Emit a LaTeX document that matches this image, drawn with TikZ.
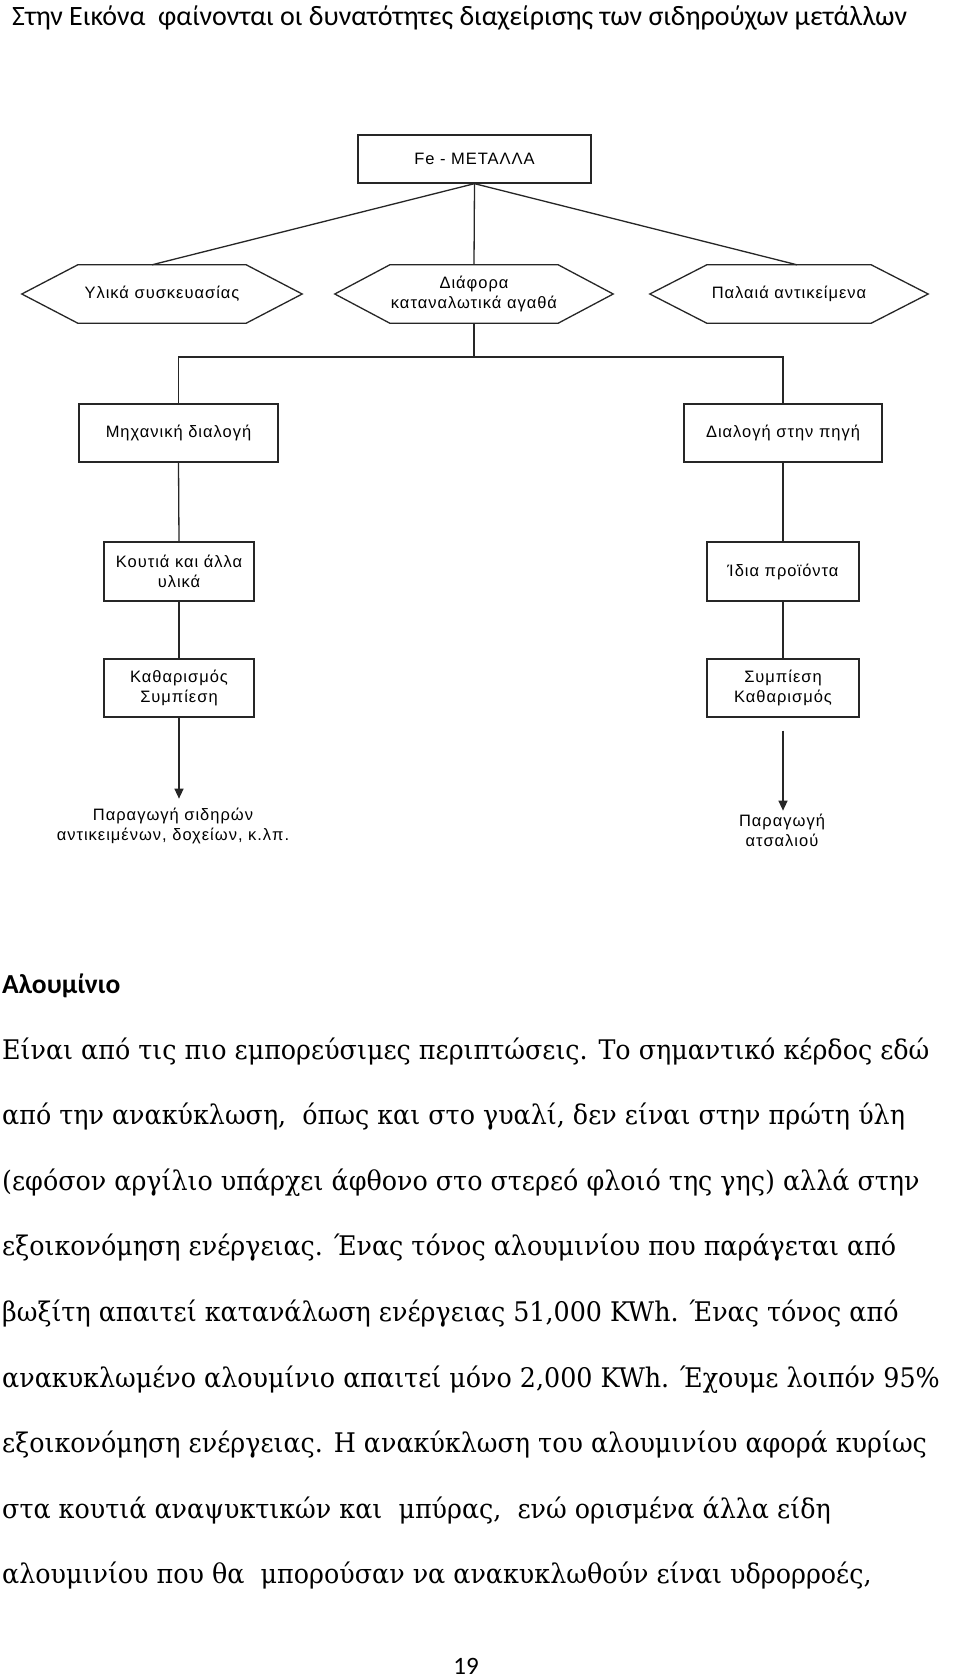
\documentclass[tikz,border=0pt]{standalone}
\usepackage{fontspec}
\setmainfont{DejaVu Serif}
\newfontfamily\titlefont{Carlito}
\newfontfamily\diagfont[LetterSpace=6]{Liberation Sans}
\newfontfamily\bodyfont[FakeStretch=0.94]{DejaVu Serif}
\usetikzlibrary{arrows.meta}
\tikzset{
  conn/.style={line width=1.3pt, draw=black!85},
  boxnode/.style={draw=black!85, line width=1.3pt, rectangle, inner sep=0pt, align=center,
    font=\diagfont\fontsize{16.5}{20}\selectfont},
  hexnode/.style={rectangle, inner sep=0pt, align=center, minimum height=58pt,
    font=\diagfont\fontsize{16.5}{20.5}\selectfont},
  outtext/.style={inner sep=0pt, align=center, font=\diagfont\fontsize{16.5}{20}\selectfont},
  bodyline/.style={anchor=base west, inner sep=0pt, font=\bodyfont\fontsize{27}{30}\selectfont},
  tip/.style={-{Triangle[width=9pt,length=10pt]}}
}
\newcommand\hexpath[2]{\draw[conn] (#1.west) -- ([xshift=#2]#1.north west) -- ([xshift=-#2]#1.north east) -- (#1.east) -- ([xshift=-#2]#1.south east) -- ([xshift=#2]#1.south west) -- cycle;}
\begin{document}
\begin{tikzpicture}[x=1pt,y=-1pt]
\fill[white] (0,0) rectangle (960,1678);
\useasboundingbox (0,0) rectangle (960,1678);

% title
\node[anchor=base west, inner sep=0pt, font=\titlefont\fontsize{28}{32}\selectfont] (title) at (12,26)
  {Στην Εικόνα~ φαίνονται οι δυνατότητες διαχείρισης των σιδηρούχων μετάλλων};

% diagram
\node[boxnode, minimum width=233pt, minimum height=48pt] (fe) at (474.5,159) {Fe - ΜΕΤΑΛΛΑ};

\node[hexnode, minimum width=280pt] (hl) at (162,294) {Υλικά συσκευασίας};
\node[hexnode, minimum width=278pt] (hm) at (474,294) {Διάφορα\\καταναλωτικά αγαθά};
\node[hexnode, minimum width=278pt] (hr) at (789,294) {Παλαιά αντικείμενα};
\hexpath{hl}{56}
\hexpath{hm}{55}
\hexpath{hr}{57}

\node[boxnode, minimum width=199pt, minimum height=58pt] (m1) at (178.5,433) {Μηχανική διαλογή};
\node[boxnode, minimum width=198pt, minimum height=58pt] (r1) at (783,433) {Διαλογή στην πηγή};
\node[boxnode, minimum width=150pt, minimum height=59pt] (m2) at (179,571.5) {Κουτιά και άλλα\\υλικά};
\node[boxnode, minimum width=152pt, minimum height=59pt] (r2) at (783,571.5) {Ίδια προϊόντα};
\node[boxnode, minimum width=150pt, minimum height=58pt] (m3) at (179,688) {Καθαρισμός\\Συμπίεση};
\node[boxnode, minimum width=152pt, minimum height=58pt] (r3) at (783,688) {Συμπίεση\\Καθαρισμός};

\node[outtext] (o1) at (173,826) {Παραγωγή σιδηρών\\αντικειμένων, δοχείων, κ.λπ.};
\node[outtext] (o2) at (782,830) {Παραγωγή\\ατσαλιού};

\coordinate (j) at (474,357);

\draw[conn] (fe.south) -- ([xshift=-10pt]hl.north);
\draw[conn] (fe.south) -- ([xshift=8pt]hr.north);
\draw[conn] (fe.south) -- (hm.north);
\draw[conn] (hm.south) -- (j);
\draw[conn] (m1.north) -- (m1.north |- j) -- (r1.north |- j) -- (r1.north);
\draw[conn] (m1.south) -- (m2.north);
\draw[conn] (r1.south) -- (r2.north);
\draw[conn] (m2.south) -- (m3.north);
\draw[conn] (r2.south) -- (r3.north);
\draw[conn, tip] (m3.south) -- ([yshift=-81pt]m3.south);
\draw[conn, tip] ([yshift=-13pt]r3.south) -- ([yshift=-93pt]r3.south);

% text
\node[anchor=base west, inner sep=0pt, font=\titlefont\bfseries\fontsize{27.5}{30}\selectfont] (heading) at (2,993) {Αλουμίνιο};

\node[bodyline] (l1) at (2,1059) {Είναι από τις πιο εμπορεύσιμες περιπτώσεις. Το σημαντικό κέρδος εδώ};
\node[bodyline] (l2) at (2,1124.6) {από την ανακύκλωση,~ όπως και στο γυαλί, δεν είναι στην πρώτη ύλη};
\node[bodyline] (l3) at (2,1190.2) {(εφόσον αργίλιο υπάρχει άφθονο στο στερεό φλοιό της γης) αλλά στην};
\node[bodyline] (l4) at (2,1255.8) {εξοικονόμηση ενέργειας. Ένας τόνος αλουμινίου που παράγεται από};
\node[bodyline] (l5) at (2,1321.4) {βωξίτη απαιτεί κατανάλωση ενέργειας 51,000 KWh. Ένας τόνος από};
\node[bodyline] (l6) at (2,1387) {ανακυκλωμένο αλουμίνιο απαιτεί μόνο 2,000 KWh. Έχουμε λοιπόν 95\%};
\node[bodyline] (l7) at (2,1452.6) {εξοικονόμηση ενέργειας. Η ανακύκλωση του αλουμινίου αφορά κυρίως};
\node[bodyline] (l8) at (2,1518.2) {στα κουτιά αναψυκτικών και~ μπύρας,~ ενώ ορισμένα άλλα είδη};
\node[bodyline] (l9) at (2,1583.8) {αλουμινίου που θα~ μπορούσαν να ανακυκλωθούν είναι υδρορροές,};

\node[inner sep=0pt, font=\titlefont\fontsize{25}{28}\selectfont] (page) at (466,1666) {19};
\end{tikzpicture}
\end{document}
